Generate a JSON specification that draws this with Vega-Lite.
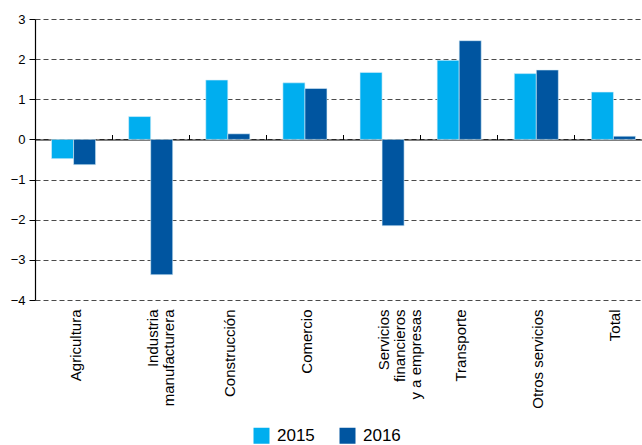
{
  "$schema": "https://vega.github.io/schema/vega-lite/v6.json",
  "width": 617,
  "height": 281,
  "autosize": {"type": "none"},
  "padding": {"left": 35, "top": 19, "right": 0, "bottom": 145},
  "background": "white",
  "config": {
    "view": {"stroke": null},
    "font": "Liberation Sans",
    "axis": {"labelFont": "Liberation Sans", "labelColor": "#000", "titleFont": "Liberation Sans"},
    "legend": {"labelFont": "Liberation Sans"}
  },
  "data": {
    "values": [
      {"cat": "Agricultura", "year": "2015", "v": -0.48},
      {"cat": "Agricultura", "year": "2016", "v": -0.63},
      {"cat": "Industria\nmanufacturera", "year": "2015", "v": 0.57},
      {"cat": "Industria\nmanufacturera", "year": "2016", "v": -3.37},
      {"cat": "Construcción", "year": "2015", "v": 1.48},
      {"cat": "Construcción", "year": "2016", "v": 0.14},
      {"cat": "Comercio", "year": "2015", "v": 1.41},
      {"cat": "Comercio", "year": "2016", "v": 1.27},
      {"cat": "Servicios\nfinancieros\ny a empresas", "year": "2015", "v": 1.67},
      {"cat": "Servicios\nfinancieros\ny a empresas", "year": "2016", "v": -2.15},
      {"cat": "Transporte", "year": "2015", "v": 1.97},
      {"cat": "Transporte", "year": "2016", "v": 2.46},
      {"cat": "Otros servicios", "year": "2015", "v": 1.64},
      {"cat": "Otros servicios", "year": "2016", "v": 1.73},
      {"cat": "Total", "year": "2015", "v": 1.18},
      {"cat": "Total", "year": "2016", "v": 0.08}
    ]
  },
  "resolve": {"axis": {"x": "independent"}},
  "layer": [
    {
      "mark": {"type": "bar", "stroke": "#d8eef9", "strokeWidth": 0.6},
      "encoding": {
        "x": {
          "field": "cat", "type": "nominal", "sort": null,
          "scale": {"paddingInner": 0, "paddingOuter": 0},
          "axis": {
            "title": null, "domain": false, "ticks": false, "grid": false,
            "labelAngle": -90, "labelAlign": "right", "labelBaseline": "middle",
            "labelExpr": "split(datum.label, '\\n')", "labelOffset": 2,
            "labelFontSize": 15, "labelPadding": 9, "labelLineHeight": 16
          }
        },
        "xOffset": {"field": "year", "type": "nominal", "scale": {"paddingInner": 0, "paddingOuter": 0.75}},
        "y": {
          "field": "v", "type": "quantitative",
          "scale": {"domain": [-4, 3], "nice": false, "zero": false},
          "axis": {
            "title": null, "values": [-4, -3, -2, -1, 0, 1, 2, 3],
            "domainColor": "#000", "domainWidth": 1.2,
            "tickColor": "#000", "tickSize": 6,
            "labelFontSize": 13, "labelPadding": 4,
            "grid": true, "gridColor": "#4a4a4a", "gridDash": [5, 3], "gridWidth": 1
          }
        },
        "color": {
          "field": "year", "type": "nominal",
          "scale": {"domain": ["2015", "2016"], "range": ["#00aeef", "#0055a0"]},
          "legend": {
            "title": null, "orient": "none", "legendX": 218, "legendY": 408, "direction": "horizontal",
            "symbolType": "square", "symbolSize": 256, "symbolStrokeWidth": 0,
            "labelFontSize": 17, "columnPadding": 24, "labelOffset": 7
          }
        }
      }
    },
    {
      "mark": {"type": "point", "opacity": 0},
      "encoding": {
        "x": {
          "field": "cat", "type": "nominal", "sort": null,
          "axis": {
            "title": null, "labels": false, "grid": false, "offset": -120.5,
            "bandPosition": 0, "domainColor": "#000", "domainWidth": 1.2,
            "tickColor": "#000", "tickSize": 5
          }
        },
        "y": {"datum": 0}
      }
    }
  ]
}
